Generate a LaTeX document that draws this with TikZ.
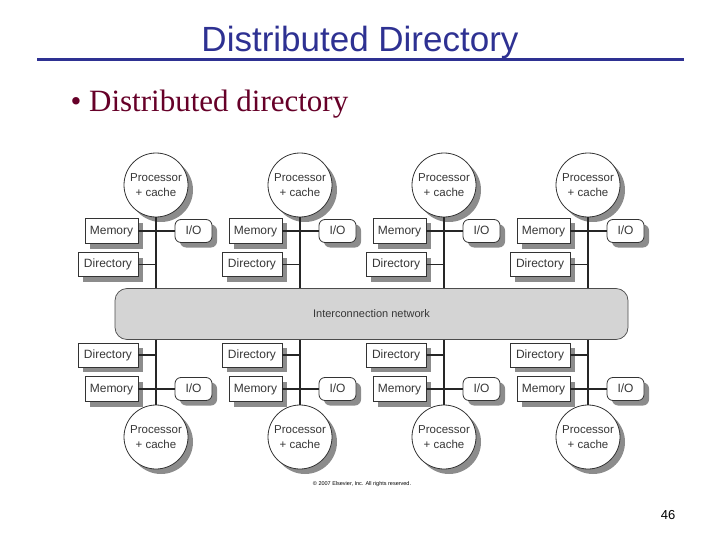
\documentclass[tikz,border=0pt]{standalone}
\usepackage{fontspec}
\setmainfont{Liberation Serif}
\setsansfont{Liberation Sans}
\usetikzlibrary{shadows}
\definecolor{slideblue}{RGB}{46,49,146}
\definecolor{slidered}{RGB}{102,0,40}
\definecolor{boxtext}{RGB}{55,55,55}
\tikzset{
	shade box/.style={drop shadow={shadow xshift=5pt, shadow yshift=-5pt, fill=black!45, opacity=1}},
	part/.style={draw=black!80, line width=0.8pt, fill=white, inner sep=0pt, text=boxtext, text height=8.6pt, text depth=2.4pt, font=\sffamily\fontsize{12}{12}\selectfont, shade box},
	memory/.style={part, minimum width=53pt, minimum height=25pt},
	directory/.style={part, minimum width=60pt, minimum height=24pt},
	io/.style={part, rounded corners=6pt, minimum width=37pt, minimum height=23pt},
	proc/.style={draw=black!80, line width=0.8pt, fill=white, inner sep=0pt, text=boxtext, shade box, circle, minimum size=64pt, align=center, font=\sffamily\fontsize{11.5}{15}\selectfont},
	bus/.style={line width=1.7pt, black!85},
	thin bus/.style={line width=1.1pt, black!85}
}
\begin{document}
\begin{tikzpicture}[x=1pt, y=-1pt]
	\useasboundingbox (0,0) rectangle (720,540);
	% Title and bullet:
	\node[font=\sffamily\fontsize{35}{35}\selectfont, text=slideblue] (ttl) at (360,42) {Distributed Directory};
	\draw[slideblue, line width=3pt] (37,60) -- (684,60);
	\node[anchor=west, font=\fontsize{31}{31}\selectfont, text=slidered] (blt) at (67,104) {\textbullet\ Distributed directory};
	% Interconnection network:
	\node[draw=black!70, line width=0.7pt, fill=black!17, rounded corners=12pt, minimum width=513pt, minimum height=51pt, text=boxtext, font=\sffamily\fontsize{11}{11}\selectfont] (net) at (371.5,314) {Interconnection network};
	% Upper nodes:
	\node[proc] (pt1) at (156,185) {Processor\\+ cache};
	\node[proc] (pt2) at (300,185) {Processor\\+ cache};
	\node[proc] (pt3) at (444,185) {Processor\\+ cache};
	\node[proc] (pt4) at (588,185) {Processor\\+ cache};
	\node[memory] (mt1) at (111.5,231) {Memory};
	\node[memory] (mt2) at (255.5,231) {Memory};
	\node[memory] (mt3) at (399.5,231) {Memory};
	\node[memory] (mt4) at (543.5,231) {Memory};
	\node[io] (iot1) at (193.5,231) {I/O};
	\node[io] (iot2) at (337.5,231) {I/O};
	\node[io] (iot3) at (481.5,231) {I/O};
	\node[io] (iot4) at (625.5,231) {I/O};
	\node[directory] (dt1) at (108,264.5) {Directory};
	\node[directory] (dt2) at (252,264.5) {Directory};
	\node[directory] (dt3) at (396,264.5) {Directory};
	\node[directory] (dt4) at (540,264.5) {Directory};
	% Lower nodes:
	\node[directory] (db1) at (108,355) {Directory};
	\node[directory] (db2) at (252,355) {Directory};
	\node[directory] (db3) at (396,355) {Directory};
	\node[directory] (db4) at (540,355) {Directory};
	\node[memory] (mb1) at (111.5,389) {Memory};
	\node[memory] (mb2) at (255.5,389) {Memory};
	\node[memory] (mb3) at (399.5,389) {Memory};
	\node[memory] (mb4) at (543.5,389) {Memory};
	\node[io] (iob1) at (193.5,389) {I/O};
	\node[io] (iob2) at (337.5,389) {I/O};
	\node[io] (iob3) at (481.5,389) {I/O};
	\node[io] (iob4) at (625.5,389) {I/O};
	\node[proc] (pb1) at (156,437) {Processor\\+ cache};
	\node[proc] (pb2) at (300,437) {Processor\\+ cache};
	\node[proc] (pb3) at (444,437) {Processor\\+ cache};
	\node[proc] (pb4) at (588,437) {Processor\\+ cache};
	% Upper wires:
	\draw[bus] (pt1.south) -- (pt1.south |- net.north);
	\draw[bus] (pt2.south) -- (pt2.south |- net.north);
	\draw[bus] (pt3.south) -- (pt3.south |- net.north);
	\draw[bus] (pt4.south) -- (pt4.south |- net.north);
	\draw[bus] (mt1.east) -- (iot1.west);
	\draw[bus] (mt2.east) -- (iot2.west);
	\draw[bus] (mt3.east) -- (iot3.west);
	\draw[bus] (mt4.east) -- (iot4.west);
	\draw[bus] (dt1.east) -- (dt1.east -| pt1.south);
	\draw[bus] (dt2.east) -- (dt2.east -| pt2.south);
	\draw[bus] (dt3.east) -- (dt3.east -| pt3.south);
	\draw[bus] (dt4.east) -- (dt4.east -| pt4.south);
	% Lower wires:
	\draw[bus] (net.south -| pb1.north) -- (pb1.north);
	\draw[bus] (net.south -| pb2.north) -- (pb2.north);
	\draw[bus] (net.south -| pb3.north) -- (pb3.north);
	\draw[bus] (net.south -| pb4.north) -- (pb4.north);
	\draw[thin bus] (mb1.east) -- (iob1.west);
	\draw[thin bus] (mb2.east) -- (iob2.west);
	\draw[thin bus] (mb3.east) -- (iob3.west);
	\draw[thin bus] (mb4.east) -- (iob4.west);
	\draw[bus] (db1.east) -- (db1.east -| pb1.north);
	\draw[bus] (db2.east) -- (db2.east -| pb2.north);
	\draw[bus] (db3.east) -- (db3.east -| pb3.north);
	\draw[bus] (db4.east) -- (db4.east -| pb4.north);
	% Footer:
	\node[font=\sffamily\fontsize{5.5}{5.5}\selectfont] (cpr) at (362,484) {\textcopyright\ 2007 Elsevier, Inc. All rights reserved.};
	\node[font=\sffamily\fontsize{13}{13}\selectfont] (pgn) at (668,515) {46};
\end{tikzpicture}
\end{document}
